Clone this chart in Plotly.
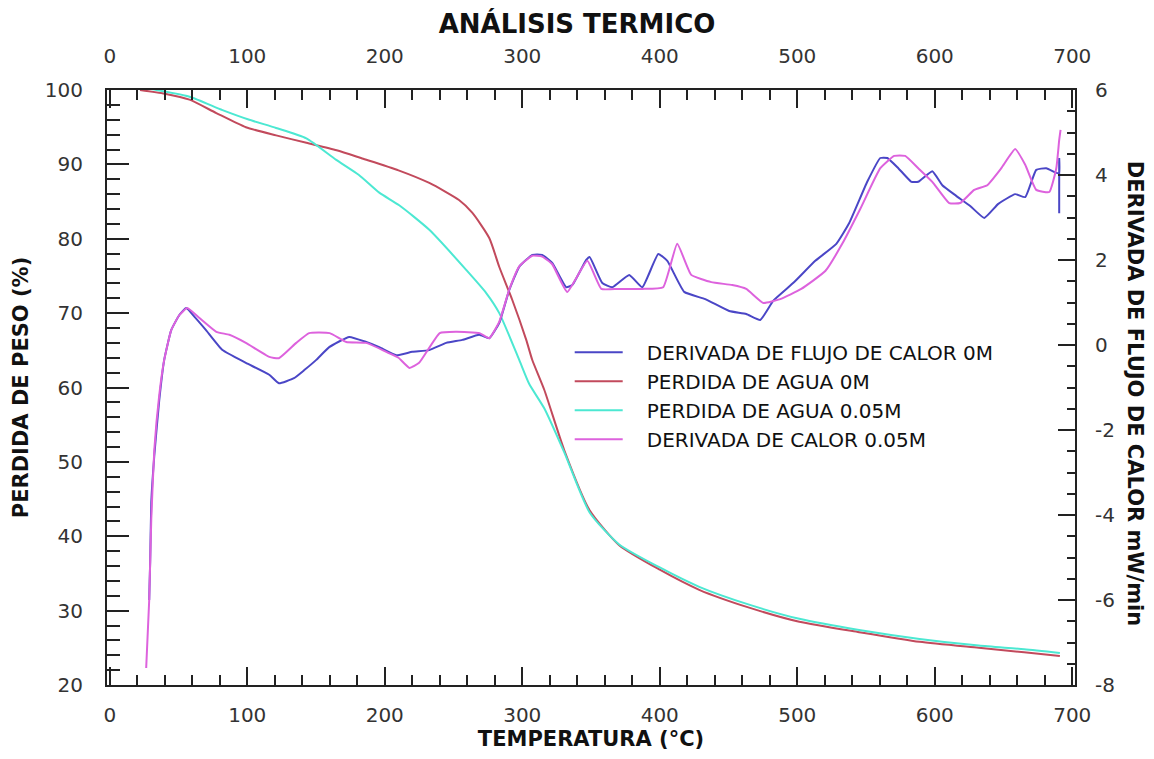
import plotly.graph_objects as go

# ---------------- data ----------------
temp_agua_0m = [22, 40, 58, 77.5, 99, 121, 143, 165, 183.6, 210, 232.4, 254, 263.6, 276, 283.3,
                292.7, 302.9, 307.3, 316, 330.5, 349, 370.5, 400, 428.7, 465, 501.5, 545, 589,
                632, 665, 691]
peso_agua_0m = [100, 99.5, 98.7, 96.9, 95.0, 93.9, 92.9, 91.9, 90.8, 89.2, 87.5, 85.2, 83.5, 80.1,
                76.2, 71.8, 66.4, 63.7, 59.7, 51.6, 43.5, 38.8, 35.5, 32.8, 30.4, 28.5, 27.1, 25.8,
                25.0, 24.4, 23.9]

temp_agua_005m = [25, 34, 58, 82, 101.5, 121, 143, 164.7, 181, 196, 210.5, 232.4, 259.3, 273.8,
                  283.3, 297.8, 305, 316, 330.5, 349, 370.5, 400, 428.7, 465, 501.5, 545, 589,
                  632, 665, 691]
peso_agua_005m = [100.3, 100, 99.1, 97.3, 96, 94.9, 93.5, 90.6, 88.6, 86.2, 84.5, 81.2, 75.8, 72.7,
                  70.0, 63.7, 60.5, 57.2, 51.3, 43.2, 38.9, 35.8, 33.2, 30.8, 28.9, 27.4, 26.2,
                  25.3, 24.8, 24.3]

temp_flujo_0m = [28.7, 28.9, 29.4, 30.2, 32.4, 36, 39.6, 44.7, 50.5, 55.6, 62, 70, 82, 99, 116,
                 123, 134, 141.5, 150.2, 159.6, 174.2, 186.5, 196, 208.4, 220, 232.4, 244.7,
                 256.4, 268.7, 276, 283.3, 290.5, 297.8, 307.3, 314.5, 321.8, 332, 336.4, 346.5,
                 349, 358.2, 365.5, 377.8, 387.3, 398.9, 405.5, 417.8, 433.1, 450.5, 462.9, 473.1,
                 482.5, 497.8, 513.1, 528.4, 537.8, 550.9, 560.4, 565.5, 573.5, 583, 588, 598.2,
                 605.5, 615.6, 625.8, 636, 646.2, 658.5, 665.8, 673.8, 681.1, 688.4, 690.5,
                 690.5, 690.5]
flujo_0m = [-6.0, -5.7, -5.1, -3.7, -2.6, -1.3, -0.35, 0.35, 0.7, 0.87, 0.65, 0.35, -0.12, -0.42,
            -0.7, -0.9, -0.78, -0.59, -0.35, -0.05, 0.19, 0.07, -0.05, -0.24, -0.16, -0.12, 0.05,
            0.12, 0.24, 0.16, 0.52, 1.29, 1.84, 2.12, 2.12, 1.93, 1.36, 1.41, 2.0, 2.07, 1.46,
            1.36, 1.65, 1.36, 2.14, 1.98, 1.25, 1.08, 0.8, 0.73, 0.59, 1.04, 1.48, 1.98, 2.38,
            2.87, 3.84, 4.4, 4.4, 4.16, 3.84, 3.84, 4.09, 3.76, 3.51, 3.27, 2.99, 3.32, 3.55,
            3.48, 4.12, 4.16, 4.05, 4.05, 4.4, 3.1]

temp_calor_005m = [26.5, 28.7, 30.2, 32.4, 36, 39.6, 44.7, 50.5, 56.4, 65, 77.5, 87, 99, 116, 123,
                   135.6, 145, 160, 172, 186.5, 203, 210, 218, 225, 240, 252, 269, 276, 283.3,
                   290.5, 297.8, 307.3, 314.5, 321.8, 332.7, 347.3, 357.5, 369.8, 387.3, 402.5,
                   412.7, 422.9, 437.5, 452.7, 462.9, 475.3, 487.6, 502.9, 520.4, 532.7, 545.8,
                   560.4, 570.5, 578.5, 588, 598.2, 610.5, 618.5, 628.7, 638.2, 648.4, 658.5,
                   665.8, 673.8, 683.3, 688.4, 690.5, 691.5]
calor_005m = [-7.6, -6.0, -4.1, -2.47, -1.18, -0.35, 0.35, 0.7, 0.87, 0.64, 0.31, 0.24, 0.05,
              -0.28, -0.31, 0.05, 0.28, 0.28, 0.07, 0.05, -0.19, -0.3, -0.54, -0.42, 0.28, 0.31,
              0.28, 0.16, 0.55, 1.3, 1.85, 2.1, 2.08, 1.9, 1.25, 1.98, 1.32, 1.32, 1.32, 1.36,
              2.38, 1.65, 1.48, 1.41, 1.32, 0.99, 1.08, 1.32, 1.74, 2.38, 3.2, 4.16, 4.45, 4.45,
              4.16, 3.84, 3.34, 3.34, 3.65, 3.76, 4.16, 4.61, 4.24, 3.65, 3.6, 4.16, 4.82, 5.06]

x_ticks = [0, 100, 200, 300, 400, 500, 600, 700]
y_left_ticks = [20, 30, 40, 50, 60, 70, 80, 90, 100]
y_right_ticks = [-8, -6, -4, -2, 0, 2, 4, 6]
y_right_labels = ["-8", "-6", "-4", "-2", "0", "2", "4", "6"]

names = ["DERIVADA DE FLUJO DE CALOR 0M", "PERDIDA DE AGUA 0M",
         "PERDIDA DE AGUA 0.05M", "DERIVADA DE CALOR 0.05M"]

# ---------------- styling ----------------
C_BLUE = "#4a46c6"
C_RED = "#c24a5c"
C_CYAN = "#4ce8d2"
C_MAG = "#dd62dd"
FONT = "DejaVu Sans"
AX = "#222222"
TICKC = "#333333"
PAD = "\u00a0\u00a0\u00a0"  # gap between legend line and its label

fig = go.Figure()
fig.add_trace(go.Scatter(x=temp_flujo_0m, y=flujo_0m, name=PAD + names[0], mode="lines",
                         line=dict(color=C_BLUE, width=2, shape="spline", smoothing=0.4),
                         xaxis="x2", yaxis="y2"))
fig.add_trace(go.Scatter(x=temp_agua_0m, y=peso_agua_0m, name=PAD + names[1], mode="lines",
                         line=dict(color=C_RED, width=2, shape="spline", smoothing=0.6)))
fig.add_trace(go.Scatter(x=temp_agua_005m, y=peso_agua_005m, name=PAD + names[2], mode="lines",
                         line=dict(color=C_CYAN, width=2, shape="spline", smoothing=0.6)))
fig.add_trace(go.Scatter(x=temp_calor_005m, y=calor_005m, name=PAD + names[3], mode="lines",
                         line=dict(color=C_MAG, width=2, shape="spline", smoothing=0.4),
                         xaxis="x2", yaxis="y2"))

xrange = [-2, 702]
common_x = dict(range=xrange, tickvals=x_ticks, ticks="inside", ticklen=18, tickwidth=2,
                tickcolor=AX, showline=True, linecolor=AX, linewidth=2, showgrid=False,
                zeroline=False, automargin=False,
                tickfont=dict(family=FONT, size=20, color=TICKC),
                minor=dict(dtick=20, ticks="inside", ticklen=10, tickwidth=2, tickcolor=AX,
                           showgrid=False))

# The page body adds an 8 px offset, so the figure is sized to fit inside it.
fig.update_layout(
    width=1138, height=743,
    margin=dict(l=99, r=71, t=82, b=66, autoexpand=False),
    paper_bgcolor="white", plot_bgcolor="white",
    title=dict(text="<b>ANÁLISIS TERMICO</b>", x=0.5, xanchor="center", y=0.979,
               yanchor="middle", font=dict(family=FONT, size=26, color="#111")),
    xaxis=dict(**common_x, ticklabelstandoff=11,
               title=dict(text="<b>TEMPERATURA (°C)</b>", standoff=4,
                          font=dict(family=FONT, size=21, color="#111"))),
    xaxis2=dict(**common_x, overlaying="x", side="top", anchor="y2", ticklabelstandoff=17),
    yaxis=dict(range=[20, 100], tickvals=y_left_ticks, ticks="inside", ticklen=22, tickwidth=2,
               tickcolor=AX, showline=True, linecolor=AX, linewidth=2, showgrid=False,
               zeroline=False, automargin=False,
               tickfont=dict(family=FONT, size=20, color=TICKC),
               ticklabelstandoff=18,
               minor=dict(dtick=2, ticks="inside", ticklen=13, tickwidth=2, tickcolor=AX,
                          showgrid=False),
               title=dict(text="<b>PERDIDA DE PESO (%)</b>", standoff=10,
                          font=dict(family=FONT, size=21, color="#111"))),
    yaxis2=dict(range=[-8, 6], tickvals=y_right_ticks, ticktext=y_right_labels,
                overlaying="y", side="right", automargin=False,
                anchor="x2", ticks="inside", ticklen=17, tickwidth=2, tickcolor=AX,
                showline=True, linecolor=AX, linewidth=2, showgrid=False, zeroline=False,
                tickfont=dict(family=FONT, size=20, color=TICKC), ticklabelstandoff=14,
                minor=dict(dtick=0.5, ticks="inside", ticklen=8, tickwidth=2, tickcolor=AX,
                           showgrid=False)),
    legend=dict(x=0.478, y=0.592, xanchor="left", yanchor="top", bgcolor="rgba(0,0,0,0)",
                borderwidth=0, font=dict(family=FONT, size=20, color="#111"),
                itemwidth=48),
    annotations=[dict(text="<b>DERIVADA DE FLUJO DE CALOR mW/min</b>", xref="paper",
                      yref="paper", x=1.062, y=0.491, xanchor="center", yanchor="middle",
                      showarrow=False, textangle=90,
                      font=dict(family=FONT, size=21, color="#111"))],
)

fig.write_html("out.html")
